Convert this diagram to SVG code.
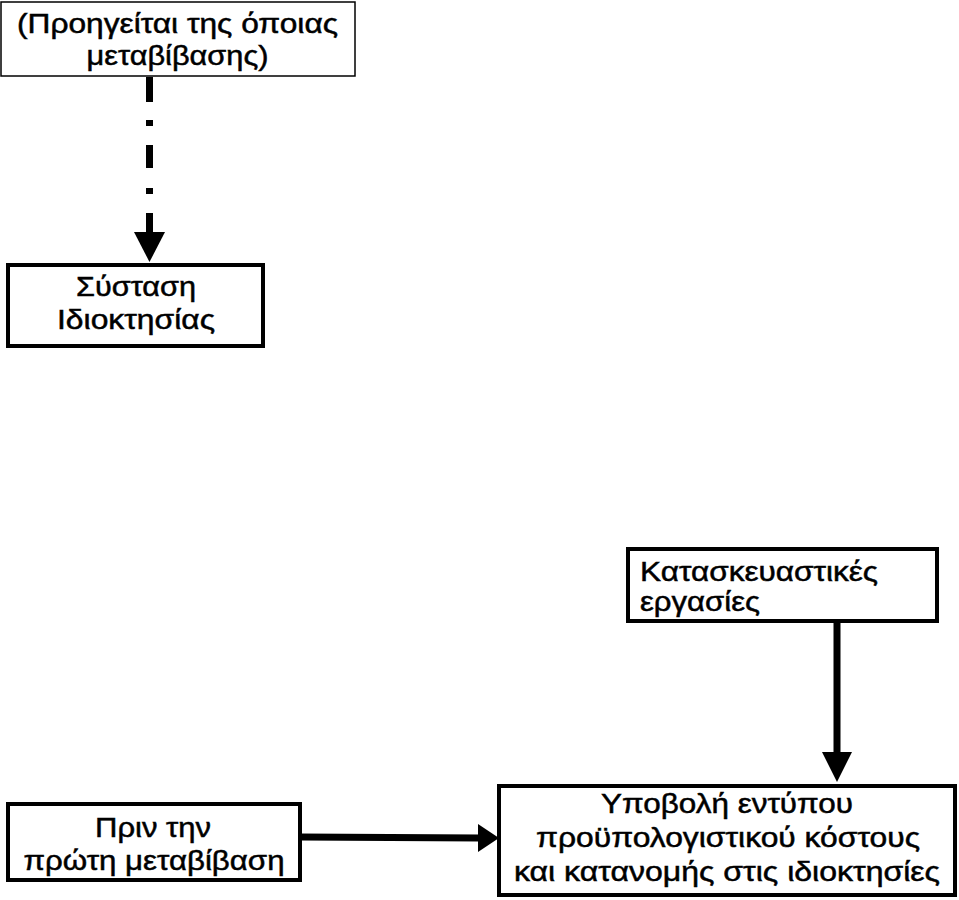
<svg xmlns="http://www.w3.org/2000/svg" width="959" height="900" viewBox="0 0 959 900">
<defs>
<style>
.t{font-family:"Liberation Sans",Arial,sans-serif;font-size:28px;fill:#000;stroke:#000;stroke-width:0.5}
.c{text-anchor:middle}
.box{fill:#fff;stroke:#000;stroke-width:4}
.thin{fill:#fff;stroke:#000;stroke-width:1.5}
.ln{stroke:#000;stroke-width:7;fill:none}
.ah{fill:#000}
</style>
</defs>
<rect width="959" height="900" fill="#fff"/>
<g id="connectors">
<path class="ln" d="M149.5,77 V233" stroke-dasharray="25,18,6,19,23,20,6,19,30"/>
<polygon class="ah" points="134,232 165,232 149.5,262"/>
<path class="ln" d="M837,616 V753"/>
<polygon class="ah" points="822,752 852,752 837,782"/>
<path class="ln" d="M300,837 L480,838" stroke-width="6"/>
<polygon class="ah" points="478,824 478,852 499,838"/>
</g>
<g id="n1">
<rect class="thin" x="1" y="2" width="354" height="74"/>
<text class="t c" x="177.5" y="33" textLength="321" lengthAdjust="spacingAndGlyphs">(Προηγείται της όποιας</text>
<text class="t c" x="177.5" y="65" textLength="182" lengthAdjust="spacingAndGlyphs">μεταβίβασης)</text>
</g>
<g id="n2">
<rect class="box" x="8" y="265" width="255" height="81"/>
<text class="t c" x="136" y="296" textLength="120" lengthAdjust="spacingAndGlyphs">Σύσταση</text>
<text class="t c" x="136" y="329" textLength="158" lengthAdjust="spacingAndGlyphs">Ιδιοκτησίας</text>
</g>
<g id="n3">
<rect class="box" x="628" y="549" width="309" height="72"/>
<text class="t" x="640" y="581" textLength="238" lengthAdjust="spacingAndGlyphs">Κατασκευαστικές</text>
<text class="t" x="640" y="611" textLength="120" lengthAdjust="spacingAndGlyphs">εργασίες</text>
</g>
<g id="n4">
<rect class="box" x="8" y="804" width="292" height="76"/>
<text class="t c" x="153" y="837" textLength="116" lengthAdjust="spacingAndGlyphs">Πριν την</text>
<text class="t c" x="154" y="870" textLength="261" lengthAdjust="spacingAndGlyphs">πρώτη μεταβίβαση</text>
</g>
<g id="n5">
<rect class="box" x="499" y="786" width="456" height="109"/>
<text class="t c" x="727" y="813" textLength="252" lengthAdjust="spacingAndGlyphs">Υποβολή εντύπου</text>
<text class="t c" x="728" y="847" textLength="384" lengthAdjust="spacingAndGlyphs">προϋπολογιστικού κόστους</text>
<text class="t c" x="727" y="881" textLength="426" lengthAdjust="spacingAndGlyphs">και κατανομής στις ιδιοκτησίες</text>
</g>
</svg>
